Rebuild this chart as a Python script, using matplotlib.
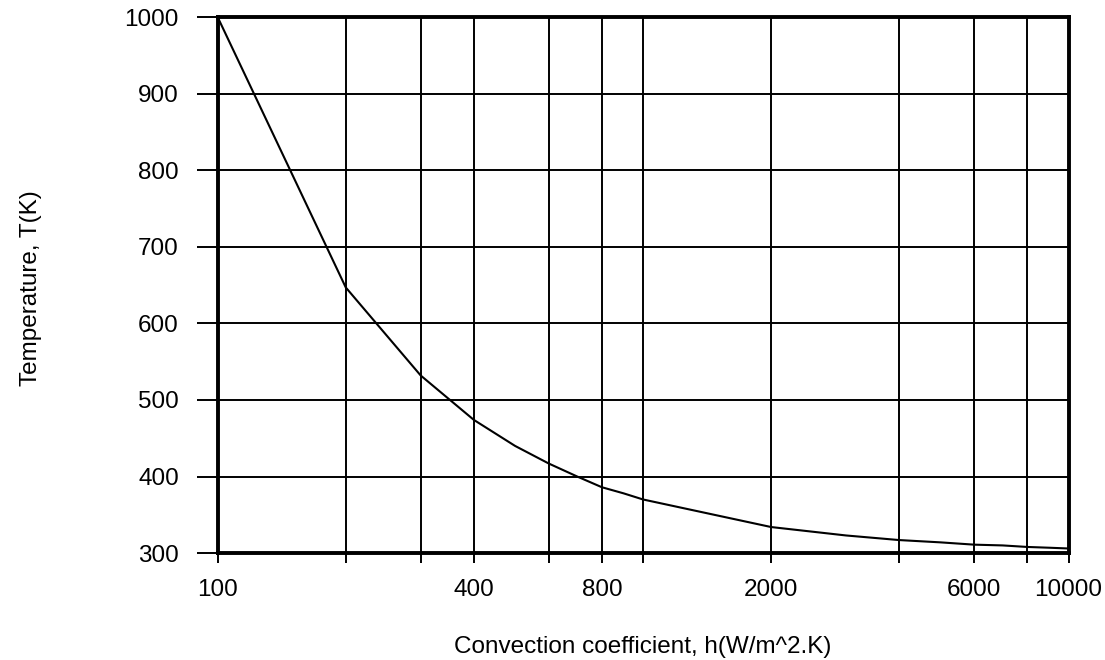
import matplotlib.pyplot as plt
from matplotlib.ticker import FixedLocator, NullFormatter

plt.rcParams['font.family'] = ['Liberation Sans', 'DejaVu Sans']

# convection coefficient (W/m^2.K) and temperature (K)
h = [100, 200, 300, 400, 500, 600, 700, 800, 900, 1000,
     2000, 3000, 4000, 5000, 6000, 7000, 8000, 9000, 10000]
T = [1000, 647, 532, 474, 440, 417, 400, 386, 378, 370,
     334, 323, 317, 314, 311, 310, 308, 307, 306]

x_labeled = [100, 400, 800, 2000, 6000, 10000]
x_other = [200, 300, 600, 1000, 4000, 8000]
y_ticks = [300, 400, 500, 600, 700, 800, 900, 1000]

fig = plt.figure(figsize=(11.05, 6.6), dpi=100)
ax = fig.add_axes([0.197, 0.162, 0.770, 0.812])

ax.plot(h, T, color='black', linewidth=1.5, zorder=3)

ax.set_xscale('log')
ax.set_xlim(100, 10000)
ax.set_ylim(300, 1000)

ax.xaxis.set_major_locator(FixedLocator(x_labeled))
ax.set_xticklabels([str(v) for v in x_labeled])
ax.xaxis.set_minor_locator(FixedLocator(x_other))
ax.xaxis.set_minor_formatter(NullFormatter())
ax.set_yticks(y_ticks)

ax.grid(True, which='both', color='black', linewidth=1.4)
ax.set_axisbelow(True)

ax.tick_params(axis='x', which='both', direction='out', length=7.5,
               width=1.4, pad=11, labelsize=17.5)
ax.tick_params(axis='y', direction='out', length=15, width=1.4,
               pad=13, labelsize=17.5)

# the 200 and 1000 ticks are drawn longer
for t in ax.xaxis.get_minor_ticks():
    if t.get_loc() in (200, 1000):
        t.tick1line.set_markersize(12)

for s in ax.spines.values():
    s.set_linewidth(2.8)
    s.set_zorder(4)

fig.text(643 / 1105, 1 - 647 / 660, 'Convection coefficient, h(W/m^2.K)',
         fontsize=17.5, ha='center', va='center')
fig.text(31 / 1105, 1 - 288 / 660, 'Temperature, T(K)', fontsize=17.5,
         rotation=90, ha='center', va='center')

fig.savefig('out.png', dpi=100)
